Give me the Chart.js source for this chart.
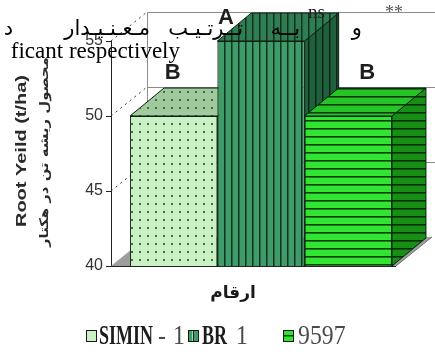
<!DOCTYPE html>
<html>
<head>
<meta charset="utf-8">
<script src="https://cdn.jsdelivr.net/npm/chart.js@4.4.1/dist/chart.umd.min.js"></script>
<style>
  html, body { margin: 0; padding: 0; background: #ffffff; }
  #wrap { width: 435px; height: 352px; position: relative; }
</style>
</head>
<body>
<div id="wrap"><canvas id="c" width="435" height="352"></canvas></div>
<script>
// Root yield of three sugar-beet cultivars (t/ha)
const cultivars = ['SIMIN -1', 'BR1', '9597'];
const rootYield = [50, 55, 50];
const groupLetters = ['B', 'A', 'B'];
const yTicks = [40, 45, 50, 55];

const xTitle = 'ارقام';
const yTitleEn = 'Root Yeild (t/ha)';
const yTitleFa = 'محصول ریشه تن در هکتار';
const noteFa = ['و', 'بــه', 'تــرتـیـب', 'مـعـنـیـدار', 'د'];
const noteEn = 'ficant respectively';

// ---- fill patterns -------------------------------------------------------
function makePattern(kind, bg, ink, size) {
  const t = document.createElement('canvas');
  t.width = size; t.height = size;
  const g = t.getContext('2d');
  g.fillStyle = bg; g.fillRect(0, 0, size, size);
  g.fillStyle = ink;
  if (kind === 'dots') {
    g.fillRect(Math.floor(size / 2) - 1, Math.floor(size / 2) - 1, 2, 2);
  } else if (kind === 'vlines') {
    g.fillRect(0, 0, 1.5, size);
  } else if (kind === 'hlines') {
    g.fillRect(0, 0, size, 1.6);
  }
  return g.createPattern(t, 'repeat');
}

const styles = [
  { kind: 'dots',   front: ['#c9f1c3', '#3d6d47'], top: ['#a0c99e', '#3d6d47'], side: ['#86b486', '#3d6d47'], size: 8 },
  { kind: 'vlines', front: ['#3f9b68', '#0f3320'], top: ['#2f7d51', '#0f3320'], side: ['#21603d', '#0c2818'], size: 7 },
  { kind: 'hlines', front: ['#2fe52f', '#0a3a0a'], top: ['#27c427', '#0a3a0a'], side: ['#178f17', '#083008'], size: 8 }
];
const pats = styles.map(s => ({
  front: makePattern(s.kind, s.front[0], s.front[1], s.size),
  top: makePattern(s.kind, s.top[0], s.top[1], s.size),
  side: makePattern(s.kind, s.side[0], s.side[1], s.size)
}));

// depth offsets of the pseudo-3D boxes and walls
const DX = 34, DY = -28;
const WX = 36, WY = -29;

function poly(ctx, pts, fill, stroke) {
  ctx.beginPath();
  ctx.moveTo(pts[0][0], pts[0][1]);
  for (let i = 1; i < pts.length; i++) ctx.lineTo(pts[i][0], pts[i][1]);
  ctx.closePath();
  if (fill) { ctx.fillStyle = fill; ctx.fill(); }
  if (stroke) { ctx.strokeStyle = stroke; ctx.lineWidth = 1; ctx.stroke(); }
}

function barBox(chart, i) {
  const bar = chart.getDatasetMeta(i).data[0];
  const p = bar.getProps(['x', 'y', 'base', 'width'], true);
  const bottom = Math.min(p.base, chart.chartArea.bottom);
  return { L: p.x - p.width / 2, R: p.x + p.width / 2, x: p.x, top: p.y, base: bottom };
}

// walls, floor, and the top/side faces of each bar (fronts are the chart's own bars)
const box3d = {
  id: 'box3d',
  beforeDatasetsDraw(chart) {
    const ctx = chart.ctx, a = chart.chartArea, ys = chart.scales.y;
    const n = chart.data.datasets.length;
    const last = barBox(chart, n - 1);
    const floorR = last.R + 4;
    ctx.save();
    // floor
    poly(ctx, [[a.left, a.bottom], [floorR, a.bottom], [floorR + WX, a.bottom + WY], [a.left + WX, a.bottom + WY]], '#9d9d9d', null);
    ctx.strokeStyle = '#6f6f6f'; ctx.lineWidth = 1;
    ctx.beginPath(); ctx.moveTo(floorR, a.bottom); ctx.lineTo(floorR + WX, a.bottom + WY); ctx.stroke();
    ctx.strokeStyle = '#222'; ctx.beginPath(); ctx.moveTo(a.left, a.bottom + 0.5); ctx.lineTo(floorR, a.bottom + 0.5); ctx.stroke();
    // back wall grid lines
    ctx.strokeStyle = '#8c8c8c';
    yTicks.forEach(v => {
      const y = Math.round(ys.getPixelForValue(v) + WY) + 0.5;
      if (v === yTicks[0]) return;
      ctx.beginPath(); ctx.moveTo(a.left + WX, y); ctx.lineTo(chart.width, y); ctx.stroke();
    });
    ctx.beginPath();
    ctx.moveTo(a.left + WX + 0.5, a.top + WY); ctx.lineTo(a.left + WX + 0.5, a.bottom + WY); ctx.stroke();
    // side wall grid lines (dotted)
    ctx.strokeStyle = '#333'; ctx.setLineDash([2, 4]);
    yTicks.forEach(v => {
      if (v === yTicks[0]) return;
      const y = ys.getPixelForValue(v);
      ctx.beginPath(); ctx.moveTo(a.left, y); ctx.lineTo(a.left + WX, y + WY); ctx.stroke();
    });
    ctx.setLineDash([]);
    // bar tops and sides, left to right
    for (let i = 0; i < n; i++) {
      const b = barBox(chart, i);
      poly(ctx, [[b.R, b.top], [b.R + DX, b.top + DY], [b.R + DX, b.base + DY], [b.R, b.base]], pats[i].side, '#0d1f12');
      poly(ctx, [[b.L, b.top], [b.R, b.top], [b.R + DX, b.top + DY], [b.L + DX, b.top + DY]], pats[i].top, '#0d1f12');
    }
    ctx.restore();
  },
  afterDatasetsDraw(chart) {
    const ctx = chart.ctx;
    ctx.save();
    // significance letters
    const shift = [[-1, -43], [-35, -23], [19, -43]];
    ctx.font = 'bold 22px "Liberation Sans", Arial, sans-serif';
    ctx.fillStyle = '#1e1e1e'; ctx.textAlign = 'center'; ctx.textBaseline = 'middle';
    groupLetters.forEach((t, i) => {
      const b = barBox(chart, i);
      ctx.fillText(t, b.x + shift[i][0], b.top + shift[i][1]);
    });
    ctx.restore();
  },
  afterDraw(chart) {
    const ctx = chart.ctx;
    ctx.save();
    // axis titles
    rotatedText(ctx, yTitleEn, 22, 151, 'bold 14px "Liberation Sans", Arial, sans-serif', 152, '#2a2a2a');
    rotatedText(ctx, yTitleFa, 45, 152, 'bold 12px "DejaVu Sans", sans-serif', 190, '#2a2a2a');
    ctx.font = 'bold 17px "DejaVu Sans", sans-serif';
    ctx.fillStyle = '#1a1a1a'; ctx.textAlign = 'center'; ctx.textBaseline = 'middle';
    ctx.fillText(xTitle, 233, 294);

    // legend: swatch + label pieces (bold name, lighter number)
    const legendX = [86, 188, 283];
    const pieces = [
      [['SIMIN', 99, true], ['-', 158, false], ['1', 173, false]],
      [['BR', 202, true], ['1', 236, false]],
      [['9597', 298, false]]
    ];
    chart.data.datasets.forEach((ds, i) => {
      const s = styles[i];
      const bx = legendX[i], by = 330;
      ctx.fillStyle = s.front[0]; ctx.fillRect(bx, by, 10, 11);
      ctx.strokeStyle = '#1a1a1a'; ctx.lineWidth = 1;
      ctx.strokeRect(bx + 0.5, by + 0.5, 10, 11);
      if (i === 1) { ctx.fillStyle = '#9fd9b4'; ctx.fillRect(bx + 4, by + 1, 2, 10); ctx.fillStyle = '#0f3320'; ctx.fillRect(bx + 5, by + 1, 1, 10); }
      if (i === 2) { ctx.fillStyle = '#0a3a0a'; ctx.fillRect(bx + 1, by + 5, 9, 1.5); }
      ctx.textAlign = 'left'; ctx.textBaseline = 'alphabetic';
      pieces[i].forEach(([txt, x, isBold]) => {
        if (isBold) {
          stretchedText(ctx, txt, x, 344, 'bold 18px "Liberation Serif", "Times New Roman", serif', '#1c1c1c', 1.0, 1.5);
        } else {
          stretchedText(ctx, txt, x, 344, '19px "Liberation Serif", "Times New Roman", serif', '#4a4a4a', 1.25, 1.4);
        }
      });
    });

    // overprinted note text
    ctx.fillStyle = '#000';
    ctx.textAlign = 'right'; ctx.textBaseline = 'alphabetic';
    ctx.font = '21px "DejaVu Sans", sans-serif';
    const noteRight = [362, 300, 243, 150, 13];
    noteFa.forEach((w, i) => ctx.fillText(w, noteRight[i], 35));
    ctx.font = '23px "Liberation Serif", "Times New Roman", serif';
    ctx.fillText(noteEn, 180, 58);
    ctx.textAlign = 'left';
    ctx.font = '19px "Liberation Serif", "Times New Roman", serif';
    ctx.fillStyle = '#222';
    ctx.fillText('ns', 308, 18);
    ctx.font = '18px "Liberation Serif", "Times New Roman", serif';
    ctx.fillStyle = '#555';
    ctx.fillText('**', 385, 18);
    ctx.restore();
  }
};

function rotatedText(ctx, text, cx, cy, font, len, color) {
  ctx.save();
  ctx.font = font; ctx.fillStyle = color;
  const w = ctx.measureText(text).width;
  ctx.translate(cx, cy); ctx.rotate(-Math.PI / 2); ctx.scale(len / w, 1);
  ctx.textAlign = 'center'; ctx.textBaseline = 'middle';
  ctx.fillText(text, 0, 0);
  ctx.restore();
}
function stretchedText(ctx, text, x, y, font, color, sx, sy) {
  ctx.save();
  ctx.font = font; ctx.fillStyle = color;
  ctx.translate(x, y); ctx.scale(sx, sy);
  ctx.fillText(text, 0, 0);
  ctx.restore();
}

const chart = new Chart(document.getElementById('c'), {
  type: 'bar',
  data: {
    labels: [''],
    datasets: cultivars.map((name, i) => ({
      label: name,
      data: [rootYield[i]],
      backgroundColor: pats[i].front,
      borderColor: '#0d1f12',
      borderWidth: 1,
      borderSkipped: false,
      categoryPercentage: 0.873,
      barPercentage: 1
    }))
  },
  options: {
    responsive: false,
    animation: false,
    devicePixelRatio: 1,
    layout: { padding: { top: 41, right: 24, bottom: 86, left: 0 } },
    plugins: { legend: { display: false }, tooltip: { enabled: false } },
    scales: {
      x: { display: false },
      y: {
        min: yTicks[0], max: yTicks[yTicks.length - 1],
        afterFit(s) { s.width = 111; },
        afterBuildTicks(s) { s.ticks = yTicks.map(v => ({ value: v })); },
        ticks: { color: '#333', padding: 3, font: { family: '"Liberation Sans", Arial, sans-serif', size: 16 } },
        grid: { drawOnChartArea: false, drawTicks: true, tickLength: 5, color: '#222' },
        border: { display: true, color: '#222', width: 1 }
      }
    }
  },
  plugins: [box3d]
});
</script>
</body>
</html>
